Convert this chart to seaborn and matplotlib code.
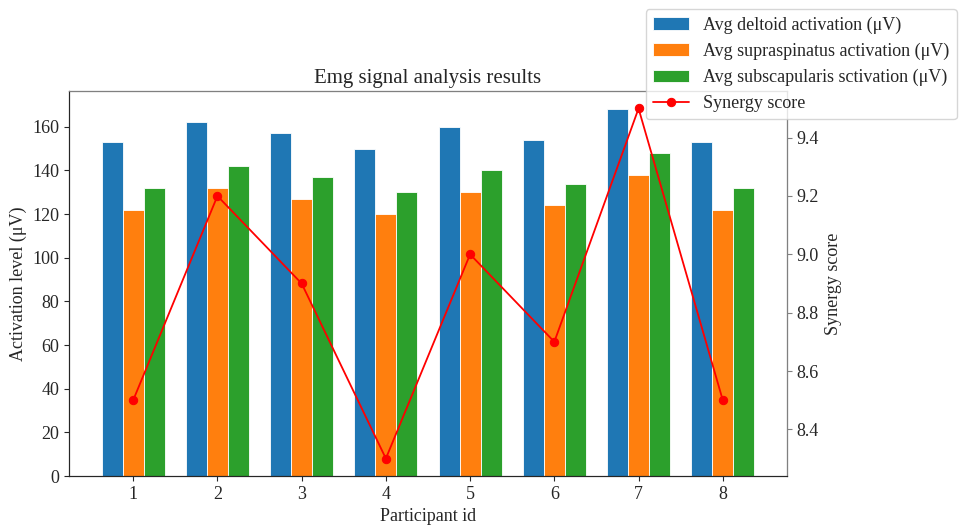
import numpy as np
import pandas as pd
import matplotlib
matplotlib.use("Agg")
import matplotlib.pyplot as plt
import seaborn as sns

participants = [1, 2, 3, 4, 5, 6, 7, 8]
deltoid = [153, 162, 157, 150, 160, 154, 168, 153]
supraspinatus = [122, 132, 127, 120, 130, 124, 138, 122]
subscapularis = [132, 142, 137, 130, 140, 134, 148, 132]
synergy = [8.5, 9.2, 8.9, 8.3, 9.0, 8.7, 9.5, 8.5]

series_names = [
    "Avg deltoid activation (\u03bcV)",
    "Avg supraspinatus activation (\u03bcV)",
    "Avg subscapularis sctivation (\u03bcV)",
]

sns.set_style("ticks")
plt.rcParams["font.family"] = ["Liberation Serif", "DejaVu Serif"]
plt.rcParams["font.size"] = 13

long_df = pd.DataFrame({
    "participant": participants * 3,
    "value": deltoid + supraspinatus + subscapularis,
    "series": np.repeat(series_names, len(participants)),
})

fig = plt.figure(figsize=(9.66, 5.25), dpi=100)
ax = fig.add_axes([0.0714, 0.0933, 0.7433, 0.7334])

sns.barplot(data=long_df, x="participant", y="value", hue="series",
            hue_order=series_names, palette="tab10", saturation=1,
            native_scale=True, width=0.75, edgecolor="white",
            linewidth=0.6, ax=ax)
bar_handles, bar_labels = ax.get_legend_handles_labels()
if ax.get_legend() is not None:
    ax.get_legend().remove()

ax.set_xticks(participants)
ax.set_xticklabels([str(p) for p in participants])
ax.set_xlabel("Participant id", fontsize=13)
ax.set_ylabel("Activation level (\u03bcV)", fontsize=13)
ax.set_title("Emg signal analysis results", fontsize=15)
ax.tick_params(labelsize=13, color="0.15")

ax2 = ax.twinx()
sns.lineplot(x=participants, y=synergy, color="red", marker="o",
             markersize=6, markeredgecolor="red", linewidth=1.3,
             label="Synergy score", ax=ax2, legend=False)
ax2.set_ylabel("Synergy score", fontsize=13)
ax2.tick_params(labelsize=13, color="0.5")
for side in ("right", "top"):
    ax2.spines[side].set_color("0.5")

ax.set_xlim(participants[0] - 0.7625, participants[-1] + 0.7625)

line_handles, line_labels = ax2.get_legend_handles_labels()
fig.legend(bar_handles + line_handles, bar_labels + line_labels,
           loc="upper right", fontsize=13)

fig.savefig("out.png", dpi=100)
